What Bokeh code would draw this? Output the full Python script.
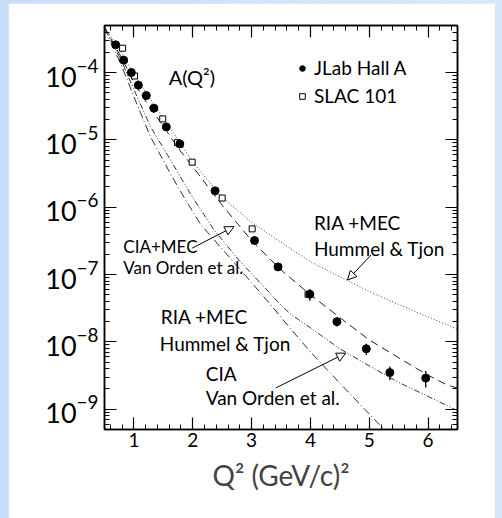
from bokeh.plotting import figure
from bokeh.models import (LinearAxis, LogAxis, Label, Arrow, NormalHead, Legend, LegendItem,
                          SingleIntervalTicker, LogTicker, ColumnDataSource, CustomJSTickFormatter)
from bokeh.layouts import column
from bokeh.embed import file_html
from bokeh.resources import INLINE

# JLab Hall A measurements of A(Q^2)
jlab_q2 = [0.69, 0.825, 0.956, 1.075, 1.21, 1.34, 1.55, 1.78, 2.38, 3.05, 3.45, 3.99, 4.45, 4.95, 5.35, 5.96]
jlab_a = [2.58e-4, 1.53e-4, 1.0e-4, 6.5e-5, 4.55e-5, 2.96e-5, 1.56e-5, 8.7e-6, 1.75e-6, 3.2e-7,
          1.3e-7, 5.1e-8, 2.0e-8, 7.9e-9, 3.5e-9, 2.9e-9]
jlab_err = [0, 0, 0, 0, 0, 0, 0, 0, 0, 0, 0, 1.0e-8, 0.3e-8, 1.5e-9, 0.8e-9, 0.8e-9]

# SLAC experiment 101
slac_q2 = [0.808, 1.01, 1.49, 1.74, 1.99, 2.50, 3.01, 3.96]
slac_a = [2.3e-4, 8.9e-5, 2.05e-5, 9.1e-6, 4.67e-6, 1.37e-6, 4.77e-7, 5.1e-8]

# Theory curves
ria_mec_q2 = [0.5, 0.8, 1.0, 1.25, 1.5, 1.75, 2.0, 2.5, 3.0, 3.5, 4.0, 4.5, 5.0, 5.5, 6.0, 6.5]
ria_mec_a = [4.8e-4, 1.9e-4, 9.5e-5, 4.4e-5, 2.1e-5, 1.0e-5, 4.7e-6, 1.4e-6, 6.0e-7, 3.0e-7,
             1.55e-7, 9.3e-8, 5.6e-8, 3.6e-8, 2.35e-8, 1.55e-8]

cia_mec_q2 = [0.5, 0.8, 1.0, 1.25, 1.5, 1.75, 2.0, 2.5, 3.0, 3.5, 4.0, 4.5, 5.0, 5.5, 6.0, 6.3, 6.5]
cia_mec_a = [4.7e-4, 1.6e-4, 7.1e-5, 3.2e-5, 1.6e-5, 7.6e-6, 4.0e-6, 1.07e-6, 3.2e-7, 1.17e-7,
             5.0e-8, 2.3e-8, 1.07e-8, 5.8e-9, 3.2e-9, 2.35e-9, 2.05e-9]

cia_q2 = [0.5, 0.8, 1.0, 1.28, 1.57, 1.96, 2.36, 2.8, 3.32, 3.5, 3.66, 3.8, 4.0, 4.5, 5.0,
          5.5, 6.0, 6.45]
cia_a = [4.7e-4, 1.41e-4, 5.6e-5, 1.58e-5, 6.0e-6, 1.58e-6, 4.6e-7, 1.58e-7, 5.2e-8, 3.5e-8,
         2.6e-8, 2.14e-8, 1.62e-8, 7.9e-9, 4.4e-9, 2.5e-9, 1.55e-9, 1.0e-9]

ria_q2 = [0.5, 0.8, 1.0, 1.28, 1.62, 1.85, 2.13, 2.5, 3.0, 3.32, 3.66, 4.0, 4.54, 5.0, 5.3]
ria_a = [4.6e-4, 1.2e-4, 4.37e-5, 1.12e-5, 3.16e-6, 1.41e-6, 5.6e-7, 2.4e-7, 7.6e-8, 3.6e-8,
         1.58e-8, 7.1e-9, 2.24e-9, 8.5e-10, 4.5e-10]

FONT = "Lato"

p = figure(width=487, height=515, y_axis_type="log",
           x_range=(0.5, 6.5), y_range=(5e-10, 5e-4),
           output_backend="svg", toolbar_location=None,
           min_border_left=96, min_border_right=38, min_border_top=22, min_border_bottom=89,
           margin=(3, 7, 0, 8))
p.background_fill_color = "white"
p.border_fill_color = "white"
p.xgrid.visible = False
p.ygrid.visible = False
p.outline_line_color = "black"
p.outline_line_width = 1.5

xticker = SingleIntervalTicker(interval=1, num_minor_ticks=5)
yticker = LogTicker(mantissas=[1], num_minor_ticks=10)
p.xaxis.ticker = xticker
p.yaxis.ticker = yticker


def style_axis(ax):
    ax.axis_line_color = "black"
    ax.axis_line_width = 1.5
    ax.major_tick_in = 12
    ax.major_tick_out = 0
    ax.minor_tick_in = 5
    ax.minor_tick_out = 0
    ax.major_tick_line_width = 1.2
    ax.minor_tick_line_width = 1
    ax.major_label_text_font = FONT
    ax.major_label_text_color = "black"


style_axis(p.xaxis[0])
style_axis(p.yaxis[0])
p.xaxis.major_label_text_font_size = "19px"
p.xaxis.major_label_standoff = 3
p.xaxis.axis_label = "Q² (GeV/c)²"
p.xaxis.axis_label_text_font = FONT
p.xaxis.axis_label_text_font_size = "28px"
p.xaxis.axis_label_text_font_style = "normal"
p.xaxis.axis_label_standoff = 8
p.yaxis.major_label_text_font_size = "27px"
p.yaxis.major_label_standoff = 6

# mirrored tick marks on the top and right edges, without labels
blank = CustomJSTickFormatter(code="return ''")
top = LinearAxis(ticker=xticker, formatter=blank)
style_axis(top)
top.major_label_standoff = 0
p.add_layout(top, "above")
right = LogAxis(ticker=yticker, formatter=blank)
style_axis(right)
right.major_label_standoff = 0
p.add_layout(right, "right")

# theory curves
p.line(ria_mec_q2, ria_mec_a, line_color="#444444", line_width=1, line_dash="1 2")
p.line(cia_mec_q2, cia_mec_a, line_color="#222222", line_width=1, line_dash="8 5")
p.line(cia_q2, cia_a, line_color="#333333", line_width=1, line_dash="6 2 1 2 1 2")
p.line(ria_q2, ria_a, line_color="#333333", line_width=1, line_dash="8 3 1 3")

# error bars
err_src = ColumnDataSource(dict(
    x=jlab_q2,
    lo=[a - e for a, e in zip(jlab_a, jlab_err)],
    hi=[a + e for a, e in zip(jlab_a, jlab_err)],
))
p.segment(x0="x", y0="lo", x1="x", y1="hi", source=err_src, line_color="black", line_width=1.3)

slac_r = p.scatter(slac_q2, slac_a, marker="square", size=6, fill_color="white",
                   line_color="black", line_width=1)
jlab_r = p.scatter(jlab_q2, jlab_a, marker="circle", size=8, fill_color="black", line_color="black")

legend = Legend(items=[LegendItem(label="JLab Hall A", renderers=[jlab_r]),
                       LegendItem(label="SLAC 101", renderers=[slac_r])],
                location=(191, 322), label_text_font=FONT, label_text_font_size="19px",
                label_text_color="black",
                glyph_width=14, glyph_height=20, label_standoff=5, spacing=5, padding=0,
                border_line_alpha=0, background_fill_alpha=0, margin=0)
p.add_layout(legend)


def add_text(x, y, text, size):
    p.add_layout(Label(x=x, y=y, text=text, text_font=FONT, text_font_size=size,
                       text_baseline="middle", text_align="left", text_color="black"))


add_text(1.59, 8.6e-5, "A(Q²)", "20px")
add_text(4.06, 5.85e-7, "RIA +MEC", "19px")
add_text(4.06, 2.4e-7, "Hummel & Tjon", "19px")
add_text(0.82, 2.65e-7, "CIA+MEC", "17px")
add_text(0.82, 1.29e-7, "Van Orden et al.", "17px")
add_text(1.456, 2.4e-8, "RIA +MEC", "19px")
add_text(1.44, 9.6e-9, "Hummel & Tjon", "19px")
add_text(2.22, 3.45e-9, "CIA", "19px")
add_text(2.22, 1.47e-9, "Van Orden et al.", "19px")


def add_arrow(x0, y0, x1, y1):
    p.add_layout(Arrow(end=NormalHead(size=9, fill_color="white", line_color="black", line_width=1),
                       x_start=x0, y_start=y0, x_end=x1, y_end=y1,
                       line_color="black", line_width=1))


add_arrow(5.03, 1.95e-7, 4.63, 8.3e-8)
add_arrow(1.99, 2.47e-7, 2.70, 5.15e-7)
add_arrow(3.41, 2.07e-9, 4.60, 6.8e-9)

layout = column(p, width=502, height=518,
                styles={"background": "linear-gradient(90deg, #c6ddf9 0%, #d8e8fb 100%)"})

open("out.html", "w").write(file_html(layout, INLINE))
